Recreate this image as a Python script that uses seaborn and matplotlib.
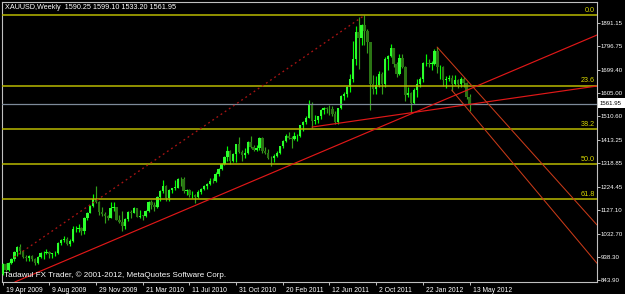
import matplotlib
matplotlib.use("Agg")
import matplotlib.pyplot as plt
import matplotlib.transforms as mtransforms
from matplotlib import font_manager
from matplotlib.patches import Rectangle
import numpy as np
import pandas as pd
import seaborn as sns

# ---------------- data (weekly XAUUSD, 19 Apr 2009 .. 13 May 2012) ----------------
opens = [868, 909, 884, 915, 930, 958, 978, 960, 938, 935, 940, 930, 912, 937, 952, 955, 957, 948, 952, 955,
         995, 1005, 1010, 990, 1004, 1050, 1052, 1057, 1045, 1095, 1118, 1145, 1175, 1162, 1120, 1112, 1105, 1096, 1138, 1140,
         1090, 1082, 1065, 1091, 1120, 1118, 1135, 1102, 1106, 1104, 1126, 1162, 1150, 1140, 1180, 1208, 1228, 1176, 1212, 1218,
         1220, 1256, 1254, 1208, 1210, 1188, 1190, 1180, 1203, 1215, 1227, 1236, 1246, 1245, 1275, 1296, 1318, 1345, 1368, 1328,
         1358, 1396, 1366, 1352, 1362, 1405, 1385, 1375, 1380, 1420, 1369, 1360, 1342, 1340, 1348, 1360, 1388, 1410, 1428, 1421,
         1418, 1428, 1430, 1474, 1486, 1504, 1556, 1492, 1494, 1510, 1536, 1542, 1540, 1539, 1520, 1486, 1542, 1594, 1601, 1628,
         1660, 1745, 1852, 1828, 1880, 1856, 1812, 1640, 1620, 1636, 1682, 1642, 1744, 1754, 1788, 1724, 1684, 1747, 1712, 1598,
         1606, 1565, 1617, 1640, 1664, 1726, 1728, 1725, 1725, 1775, 1710, 1710, 1656, 1662, 1668, 1642, 1656, 1642, 1663, 1645,
         1590.25]
highs = [913, 915, 918, 934, 960, 981, 990, 965, 945, 945, 947, 935, 940, 958, 960, 972, 960, 953, 960, 998,
         1010, 1024, 1020, 1010, 1062, 1065, 1070, 1060, 1101, 1120, 1150, 1195, 1226, 1166, 1140, 1120, 1110, 1163, 1162, 1143,
         1110, 1124, 1095, 1125, 1127, 1140, 1138, 1130, 1110, 1128, 1164, 1169, 1160, 1184, 1211, 1249, 1232, 1215, 1220, 1252,
         1261, 1265, 1262, 1216, 1215, 1205, 1194, 1210, 1218, 1232, 1240, 1258, 1260, 1283, 1300, 1320, 1350, 1388, 1372, 1360,
         1398, 1424, 1375, 1380, 1408, 1432, 1395, 1392, 1424, 1424, 1386, 1378, 1348, 1356, 1369, 1390, 1412, 1440, 1445, 1432,
         1447, 1440, 1476, 1490, 1510, 1577, 1570, 1517, 1512, 1540, 1550, 1549, 1556, 1552, 1530, 1545, 1595, 1610, 1632, 1681,
         1815, 1878, 1913, 1885, 1921, 1865, 1813, 1678, 1675, 1695, 1690, 1750, 1760, 1803, 1790, 1730, 1764, 1763, 1716, 1630,
         1610, 1625, 1660, 1672, 1730, 1764, 1745, 1736, 1786, 1792, 1720, 1714, 1675, 1680, 1680, 1678, 1662, 1669, 1670, 1648,
         1599.10]
lows = [866, 880, 882, 908, 922, 940, 948, 932, 922, 920, 920, 905, 910, 934, 930, 950, 935, 932, 940, 950,
        988, 1000, 985, 982, 1000, 1040, 1040, 1026, 1033, 1090, 1116, 1140, 1158, 1110, 1105, 1075, 1090, 1095, 1125, 1089,
        1075, 1044, 1053, 1085, 1095, 1116, 1100, 1095, 1087, 1100, 1122, 1132, 1126, 1138, 1165, 1200, 1167, 1166, 1196, 1210,
        1218, 1225, 1197, 1190, 1180, 1177, 1157, 1176, 1192, 1210, 1216, 1230, 1240, 1242, 1268, 1290, 1310, 1330, 1318, 1326,
        1325, 1360, 1330, 1340, 1358, 1380, 1370, 1370, 1375, 1362, 1355, 1338, 1308, 1323, 1345, 1356, 1380, 1407, 1417, 1380,
        1413, 1410, 1425, 1450, 1480, 1502, 1462, 1480, 1482, 1500, 1520, 1524, 1515, 1510, 1478, 1480, 1540, 1577, 1590, 1610,
        1650, 1720, 1702, 1800, 1800, 1767, 1535, 1600, 1600, 1630, 1600, 1630, 1700, 1752, 1710, 1670, 1680, 1705, 1573, 1590,
        1522, 1560, 1590, 1630, 1650, 1715, 1710, 1700, 1718, 1688, 1660, 1635, 1627, 1652, 1612, 1636, 1626, 1630, 1630, 1580,
        1533.20]
closes = [909, 884, 915, 930, 958, 978, 960, 938, 935, 940, 930, 912, 937, 952, 955, 957, 948, 952, 955, 995,
          1005, 1010, 990, 1004, 1050, 1052, 1057, 1045, 1095, 1118, 1145, 1175, 1162, 1120, 1112, 1105, 1096, 1138, 1140, 1090,
          1082, 1065, 1091, 1120, 1118, 1135, 1102, 1106, 1104, 1126, 1162, 1150, 1140, 1180, 1208, 1228, 1176, 1212, 1218, 1220,
          1256, 1254, 1208, 1210, 1188, 1190, 1180, 1203, 1215, 1227, 1236, 1246, 1245, 1275, 1296, 1318, 1345, 1368, 1328, 1358,
          1396, 1366, 1352, 1362, 1405, 1385, 1375, 1380, 1420, 1369, 1360, 1342, 1340, 1348, 1360, 1388, 1410, 1428, 1421, 1418,
          1428, 1430, 1474, 1486, 1504, 1556, 1492, 1494, 1510, 1536, 1542, 1540, 1539, 1520, 1486, 1542, 1594, 1601, 1628, 1660,
          1745, 1852, 1828, 1880, 1856, 1812, 1640, 1620, 1636, 1682, 1642, 1744, 1754, 1788, 1724, 1684, 1747, 1712, 1598, 1606,
          1565, 1617, 1640, 1664, 1726, 1728, 1725, 1725, 1775, 1710, 1710, 1656, 1662, 1668, 1642, 1658, 1642, 1663, 1645, 1590,
          1561.95]

date_labels = ["19 Apr 2009", "9 Aug 2009", "29 Nov 2009", "21 Mar 2010", "11 Jul 2010", "31 Oct 2010",
               "20 Feb 2011", "12 Jun 2011", "2 Oct 2011", "22 Jan 2012", "13 May 2012"]
date_weeks = [0, 16, 32, 48, 64, 80, 96, 112, 128, 144, 160]
price_ticks = [843.90, 938.30, 1032.70, 1127.10, 1224.45, 1318.85, 1413.25, 1510.60, 1605.00, 1699.40, 1796.75, 1891.15]

fib_high = 1921.0
fib_low = 711.0
fib_ratios = [0.0, 23.6, 38.2, 50.0, 61.8]
last_price = 1561.95
header = "XAUUSD,Weekly  1590.25 1599.10 1533.20 1561.95"
footer = "Tadawul FX Trader, \u00a9 2001-2012, MetaQuotes Software Corp."

# trend line anchors (week index, price)
long_x, long_y = [4.2, 203.7], [836, 1841]
flat_x, flat_y = [106.0, 203.7], [1466.4, 1633.5]
chan_a_x, chan_a_y = [148.9, 203.7], [1792, 1068]
chan_b_x, chan_b_y = [153.9, 203.7], [1617, 912]
fib_diag_x, fib_diag_y = [4.0, 124.0], [937, 1921]

# ---------------- style ----------------
sns.set_theme(style="dark", rc={"axes.facecolor": "black", "figure.facecolor": "black",
                                "axes.edgecolor": "#c0c0c0", "axes.grid": False})
names = {f.name for f in font_manager.fontManager.ttflist}
if "Liberation Sans Narrow" in names:
    FAM, FS = "Liberation Sans Narrow", 5.7
else:
    FAM, FS = "Liberation Sans", 4.9
plt.rcParams["font.family"] = [FAM, "DejaVu Sans"]

W, H = 625, 294
fig = plt.figure(figsize=(W / 100, H / 100), dpi=100)
L, R, T, B = 2, 597, 2, 282
ax = fig.add_axes([L / W, 1 - B / H, (R - L) / W, (B - T) / H])
ax.set_facecolor("black")

df = pd.DataFrame({"week": np.arange(len(closes)), "open": opens, "high": highs,
                   "low": lows, "close": closes})
bull = df["close"] >= df["open"]
body_lo = df[["open", "close"]].min(axis=1)
body_h = (df["close"] - df["open"]).abs().clip(lower=2.5)

wick_cols = np.where(bull, "#00ff00", "#33a01a")
body_cols = np.where(bull, "#2cff2c", "#2b7414")
ax.vlines(df["week"], df["low"], df["high"], colors=wick_cols, linewidth=0.85, zorder=3)
ax.bar(df["week"], body_h, bottom=body_lo, width=0.82, color=body_cols,
       linewidth=0, zorder=3)

# fib levels
fib_col = "#b8b800"
for r in fib_ratios:
    lvl = fib_high - r / 100.0 * (fib_high - fib_low)
    ax.axhline(lvl, color=fib_col, linewidth=1.1, zorder=4)
    ax.annotate(f"{r:.1f}", xy=(0.997, lvl), xycoords=("axes fraction", "data"),
                xytext=(0, 1.0), textcoords="offset points", ha="right", va="bottom",
                color="#d8d800", fontsize=FS + 0.3, zorder=6)

# current price line
ax.axhline(last_price, color="#7d8a99", linewidth=0.9, zorder=4)

# trend lines
sns.lineplot(x=long_x, y=long_y, ax=ax, color="#e01818", linewidth=0.85, zorder=5)
sns.lineplot(x=flat_x, y=flat_y, ax=ax, color="#e01818", linewidth=0.85, zorder=5)
sns.lineplot(x=chan_a_x, y=chan_a_y, ax=ax, color="#c83a18", linewidth=0.75, zorder=5)
sns.lineplot(x=chan_b_x, y=chan_b_y, ax=ax, color="#c83a18", linewidth=0.75, zorder=5)
sns.lineplot(x=fib_diag_x, y=fib_diag_y, ax=ax, color="#a81414", linewidth=0.95,
             linestyle=(0, (1.4, 2.4)), zorder=5)

# axes limits and ticks
ax.set_xlim(-0.24, 203.7)
ax.set_ylim(835.8, 1975.4)
ax.yaxis.tick_right()
ax.set_yticks(price_ticks)
ax.set_yticklabels([f"{p:.2f}" for p in price_ticks])
ax.set_xticks(date_weeks)
ax.set_xticklabels(date_labels)
ax.tick_params(axis="both", colors="#c0c0c0", labelcolor="white",
               length=2.5, width=0.7, direction="out", pad=1.0)
ax.tick_params(axis="x", bottom=True, labelsize=FS)
ax.tick_params(axis="y", right=True, left=False, labelsize=FS - 0.5, pad=0.6, length=2.2)
shift = mtransforms.ScaledTranslation(3 / 100, 0, fig.dpi_scale_trans)
for lab in ax.get_xticklabels():
    lab.set_horizontalalignment("left")
    lab.set_transform(lab.get_transform() + shift)
for sp in ax.spines.values():
    sp.set_color("#c0c0c0")
    sp.set_linewidth(0.8)
ax.set_xlabel("")
ax.set_ylabel("")

# header / footer text
fig.text(5 / W, 1 - 7.5 / H, header, color="white", fontsize=FS + 0.3, va="center", ha="left")
fig.text(4 / W, 1 - 275 / H, footer, color="white", fontsize=FS + 0.9, va="center", ha="left")

# current price tag
fig.patches.append(Rectangle((598 / W, 1 - 107.5 / H), 27 / W, 9 / H, transform=fig.transFigure,
                             facecolor="white", edgecolor="none", zorder=10))
fig.text(600 / W, 1 - 103 / H, f"{last_price:.2f}", color="black", fontsize=FS - 0.5,
         va="center", ha="left", zorder=11)

fig.savefig("out.png", dpi=100, facecolor="black")
